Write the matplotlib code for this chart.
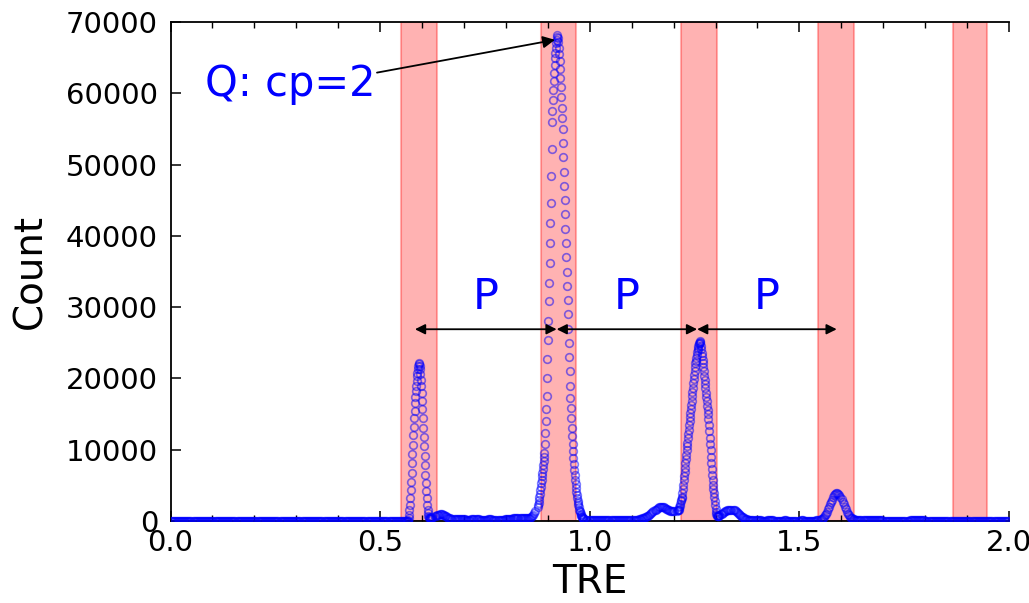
import numpy as np
import matplotlib
matplotlib.use('Agg')
import matplotlib.pyplot as plt

# histogram counts, stored as (start, step, counts) pieces
zero_start, zero_step = 0.000, 0.0025
zero_counts = [
    0, 0, 0, 0, 0, 0, 0, 0, 0, 0, 0, 0, 0, 0, 0, 0, 0, 0, 0, 0,
    0, 0, 0, 0, 0, 0, 0, 0, 0, 0, 0, 0, 0, 0, 0, 0, 0, 0, 0, 0,
    0, 0, 0, 0, 0, 0, 0, 0, 0, 0, 0, 0, 0, 0, 0, 0, 0, 0, 0, 0,
    0, 0, 0, 0, 0, 0, 0, 0, 0, 0, 0, 0, 0, 0, 0, 0, 0, 0, 0, 0,
    0, 0, 0, 0, 0, 0, 0, 0, 0, 0, 0, 0, 0, 0, 0, 0, 0, 0, 0, 0,
    0, 0, 0, 0, 0, 0, 0, 0, 0, 0, 0, 0, 0, 0, 0, 0, 0, 0, 0, 0,
    0, 0, 0, 0, 0, 0, 0, 0, 0, 0, 0, 0, 0, 0, 0, 0, 0, 0, 0, 0,
    0, 0, 0, 0, 0, 0, 0, 0, 0, 0, 0, 0, 0, 0, 0, 0, 0, 0, 0, 0,
    0, 0, 0, 0, 0, 0, 0, 0, 0, 0, 0, 0, 0, 0, 0, 0, 0, 0, 0, 0,
    0, 0, 0, 0, 0, 0, 0, 0, 0, 0, 0, 0, 0, 0, 0, 0, 0, 0, 0, 0,
    0, 0, 0, 0, 0, 0, 0, 0, 0, 0, 0, 0, 0, 0, 0, 0, 0, 0, 0, 0,
    0, 0, 0, 0, 0, 0,
]

peak1_start, peak1_step = 0.564, 0.001
peak1_counts = [
    0, 0, 50, 150, 400, 800, 1500, 2300, 3200, 4300,
    5500, 6800, 8100, 9400, 10700, 12000, 13200, 14400, 15500, 16500,
    17400, 18200, 19000, 19700, 20300, 20800, 21300, 21700, 22000, 22100,
    21800, 21300, 20600, 19800, 18900, 18000, 16900, 15700, 14400, 13100,
    11800, 10500, 9100, 7800, 6500, 5300, 4200, 3200, 2300, 1600,
    1100, 750, 550, 450, 400, 380, 380, 400, 430, 470, 520,
]

gap1_start, gap1_step = 0.630, 0.0025
gap1_counts = [
    650, 720, 800, 850, 900, 930, 950, 930, 900, 830,
    750, 650, 550, 470, 400, 350, 300, 270, 250, 250,
    250, 260, 280, 290, 300, 290, 280, 250, 230, 210,
    200, 190, 180, 190, 200, 220, 250, 270, 280, 270,
    260, 240, 220, 200, 180, 170, 160, 165, 170, 185,
    200, 215, 230, 225, 220, 205, 190, 175, 160, 155,
    150, 155, 160, 170, 180, 190, 200, 210, 220, 235,
    250, 265, 280, 300, 320, 350, 380, 400, 420, 430,
    440, 430, 420, 400, 380, 365, 350, 350, 350, 365,
    380, 480, 600, 750, 900, 1150, 1400,
]

peak2_start, peak2_step = 0.876, 0.001
peak2_counts = [
    2000, 2200, 2500, 2900, 3300, 3800, 4300, 4800, 5300, 5800,
    6300, 6800, 7300, 7800, 8400, 9000, 9600, 10800, 12300, 14000,
    15700, 17500, 20000, 22700, 25400, 28100, 30800, 33400, 36200, 39000,
    41800, 44600, 48400, 52200, 56000, 57500, 59000, 60400, 61700, 62900,
    64000, 64900, 65700, 66400, 67000, 67500, 67900, 68200,
    67800, 67200, 66400, 65500, 64500, 63400, 62200, 60900, 59500, 58000,
    56500, 55000, 53000, 51000, 49000, 47000, 45000, 43000, 41000, 39000,
    37000, 35000, 33000, 31000, 29000, 27000, 25000, 23000, 21000, 19000,
    17300, 15800, 14400, 13100, 11900, 10800, 9800, 8900, 8000, 7200,
    6500, 5800, 5200, 4600, 4100, 3600, 3200, 2800, 2500, 2200,
    1900, 1600, 1400, 1200, 1000, 850, 700, 600, 500, 420,
    360, 300, 260,
]

gap2_start, gap2_step = 0.992, 0.0025
gap2_counts = [
    200, 180, 160, 145, 130, 120, 110, 105, 100, 95,
    90, 85, 80, 80, 80, 85, 90, 95, 100, 105,
    110, 105, 100, 95, 90, 85, 80, 80, 80, 85,
    90, 100, 110, 120, 130, 140, 150, 155, 160, 155,
    150, 145, 140, 135, 130, 135, 140, 155, 170, 195,
    220, 260, 300, 350, 400, 460, 520, 600, 680, 770,
    870, 980, 1100, 1220, 1350, 1480, 1600, 1720, 1820, 1900,
    1950, 1990, 2000, 1960, 1900, 1800, 1700, 1620, 1550, 1500,
    1450, 1420, 1400, 1410, 1420,
]

peak3_start, peak3_step = 1.209, 0.001
peak3_counts = [
    1450, 1480, 1520, 1580, 1700, 1900, 2150, 2450, 2750, 3000,
    3200, 3400, 3900, 4500, 5100, 5700, 6300, 6900, 7500, 8100,
    8700, 9300, 9900, 10500, 11000, 11600, 12200, 12800, 13400, 14000,
    14600, 15150, 15700, 16300, 16900, 17500, 18100, 18700, 19300, 19900,
    20500, 21100, 21600, 22100, 22500, 22900, 23300, 23700, 24000, 24300,
    24600, 24800, 25000, 25100, 25200, 25000, 24600, 24100, 23600, 23100,
    22600, 22100, 21600, 21000, 20400, 19800, 19200, 18600, 18000, 17400,
    16800, 16200, 15600, 15000, 14300, 13500, 12600, 11700, 10800, 9900,
    9000, 8100, 7300, 6500, 5800, 5100, 4500, 3900, 3400, 2800,
    2200, 1700, 1300, 1000, 800, 700, 650, 650, 700, 750, 800,
]

tail_start, tail_step = 1.313, 0.0025
tail_counts = [
    950, 1050, 1150, 1250, 1350, 1430, 1500, 1550, 1580, 1595,
    1600, 1580, 1550, 1480, 1400, 1280, 1150, 1000, 850, 720,
    600, 500, 400, 330, 260, 210, 170, 140, 120, 110,
    100, 95, 90, 85, 80, 80, 80, 75, 70, 65,
    60, 60, 60, 65, 70, 75, 80, 80, 80, 75,
    70, 65, 60, 55, 50, 50, 50, 55, 60, 65,
    70, 70, 70, 65, 60, 55, 50, 50, 50, 50,
    50, 55, 60, 60, 60, 65, 70, 70, 70, 65,
    60, 55, 50, 50, 50, 50, 50, 52, 55, 58,
    60, 70, 80, 110, 150, 220, 300, 440, 600, 820,
    1050, 1330, 1650, 2000, 2350, 2680, 3000, 3320, 3600, 3800,
    3950, 3930, 3850, 3650, 3400, 3070, 2700, 2320, 1950, 1620,
    1300, 1030, 800, 610, 450, 350, 280, 235, 200, 180,
    160, 150, 140, 135, 130, 125, 120, 115, 110, 105,
    100, 100, 100, 95, 90, 90, 90, 85, 80, 80,
    80, 75, 70, 70, 70, 65, 60, 60, 60, 55,
    50, 50, 50, 50, 50, 50, 50, 50, 50, 50,
    50, 50, 50, 50, 50, 50, 50, 55, 60, 65,
    70, 75, 80, 85, 90, 95, 100, 100, 100, 95,
    90, 85, 80, 75, 70, 65, 60, 55, 50, 45,
    40, 40, 40, 35, 30, 30, 30, 30, 30, 25,
    20, 20, 20, 20, 20, 20, 20, 20, 20, 15,
    10, 10, 10, 10, 10, 10, 10, 10, 10, 10,
    10, 5, 0, 0, 0, 0, 0, 0, 0, 0,
    0, 0, 0, 0, 0, 0, 0, 0, 0, 0,
    0, 0, 0, 0, 0, 0, 0, 0, 0, 0,
    0, 0, 0, 0, 0, 0, 0, 0, 0, 0,
    0, 0, 0, 0, 0,
]

# shaded windows (TRE ranges)
span_lo = [0.550, 0.883, 1.217, 1.544, 1.866]
span_hi = [0.635, 0.966, 1.303, 1.630, 1.948]

# period arrows
p_arrow_x = [0.583, 0.921, 1.256, 1.589]
p_arrow_y = 26900

pieces = [
    (zero_start, zero_step, zero_counts),
    (peak1_start, peak1_step, peak1_counts),
    (gap1_start, gap1_step, gap1_counts),
    (peak2_start, peak2_step, peak2_counts),
    (gap2_start, gap2_step, gap2_counts),
    (peak3_start, peak3_step, peak3_counts),
    (tail_start, tail_step, tail_counts),
]
xs, ys = [], []
for start, step, counts in pieces:
    xs.append(start + step * np.arange(len(counts)))
    ys.append(np.array(counts, dtype=float))
tre = np.concatenate(xs)
count = np.concatenate(ys)

fig = plt.figure(figsize=(10.29, 6.03), dpi=100)
ax = fig.add_axes([0.1657, 0.136, 0.8149, 0.8275])

for lo, hi in zip(span_lo, span_hi):
    ax.axvspan(lo, hi, facecolor='red', edgecolor='red', alpha=0.3, lw=1.5, zorder=1)

ax.plot(tre, count, 'o', mfc='none', mec='blue', mew=1.2, ms=5.5, alpha=0.5, zorder=3)

# Q annotation
ax.text(0.082, 61300, 'Q: cp=2', color='blue', fontsize=30, ha='left', va='center')
ax.annotate('', xy=(0.917, 67500), xytext=(0.4925, 62900),
            arrowprops=dict(arrowstyle='-|>', color='black', lw=1.3,
                            mutation_scale=18, shrinkA=0, shrinkB=0), zorder=5)

# P arrows
for a, b in zip(p_arrow_x[:-1], p_arrow_x[1:]):
    ax.annotate('', xy=(b, p_arrow_y), xytext=(a, p_arrow_y),
                arrowprops=dict(arrowstyle='<|-|>', color='black', lw=1.3,
                                mutation_scale=15, shrinkA=0, shrinkB=0), zorder=5)
    ax.text((a + b) / 2, 31400, 'P', color='blue', fontsize=31, ha='center', va='center')

ax.set_xlim(0, 2.0)
ax.set_ylim(0, 70000)
ax.set_xticks([0.0, 0.5, 1.0, 1.5, 2.0])
ax.set_xticks(np.arange(0, 2.01, 0.1), minor=True)
ax.set_yticks(range(0, 70001, 10000))
ax.spines['right'].set_visible(False)
for s in ['left', 'top', 'bottom']:
    ax.spines[s].set_linewidth(1.3)
ax.tick_params(axis='both', which='both', direction='in', top=True, right=False, labelsize=21)
ax.tick_params(axis='both', which='major', length=7, width=1.1)
ax.tick_params(axis='x', which='minor', length=4, width=1.0)
ax.tick_params(axis='y', which='major', pad=9)
ax.tick_params(axis='x', which='major', pad=6)

ax.set_xlabel('TRE', fontsize=28, labelpad=4)
ax.set_ylabel('Count', fontsize=28, labelpad=12)

fig.savefig('out.png', dpi=100)
